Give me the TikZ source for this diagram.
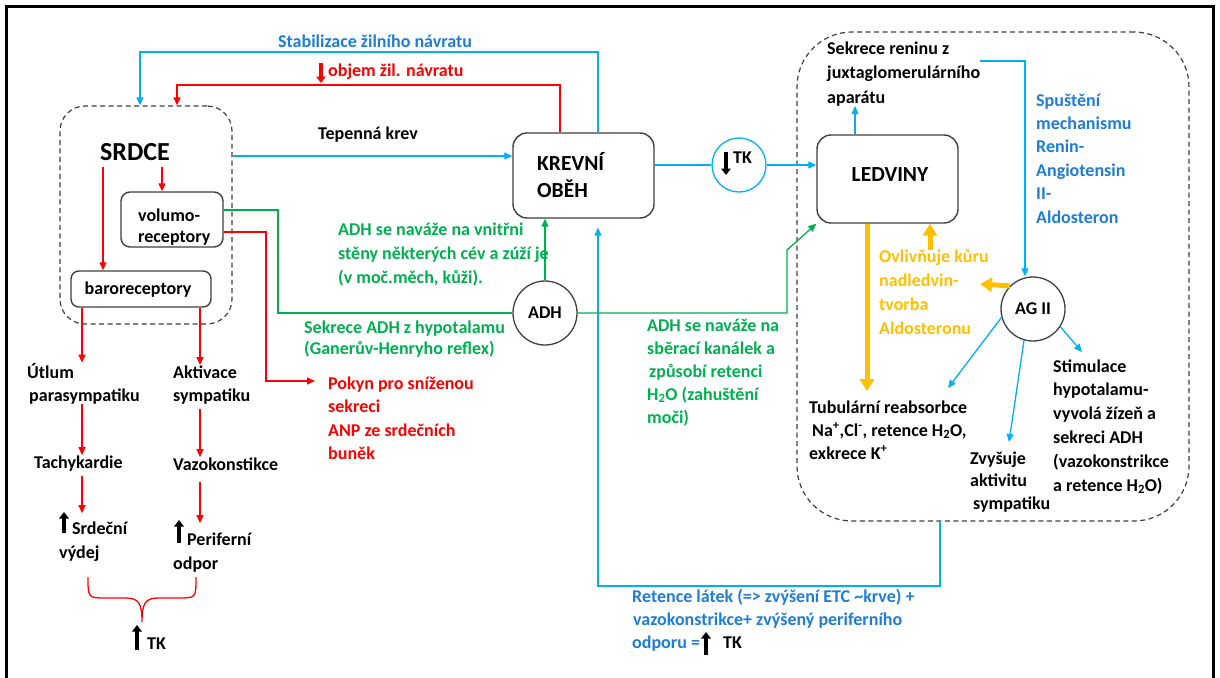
\documentclass[tikz,border=0pt]{standalone}
\usepackage{fontspec}
\setmainfont{Carlito}
\usetikzlibrary{arrows.meta}

\definecolor{lineblue}{RGB}{0,176,240}
\definecolor{textblue}{RGB}{31,125,214}
\definecolor{adhgreen}{RGB}{0,176,80}
\definecolor{alarmred}{RGB}{255,0,0}
\definecolor{amber}{RGB}{255,192,0}
\definecolor{outline}{RGB}{64,64,64}

% multi-line labels are placed by the baseline of their last line
\tikzset{
  lbl/.style={font=\bfseries\fontsize{18}{23}\selectfont, inner sep=0pt, align=left, anchor=base west},
  organ/.style={draw=outline, line width=1.4pt, fill=white, inner sep=0pt},
  group/.style={draw=outline, line width=1.2pt, dash pattern=on 5pt off 3.5pt, inner sep=0pt},
  hub/.style={circle, draw=outline, line width=1.3pt, fill=white, minimum size=64pt, inner sep=0pt,
              font=\bfseries\fontsize{18}{22}\selectfont},
  tip/.style={-{Triangle[length=8pt,width=7pt]}},
  bl/.style={draw=lineblue, line width=1.3pt},
  gl/.style={draw=adhgreen, line width=1.3pt},
  rl/.style={draw=alarmred, line width=1.3pt},
  ol/.style={draw=amber, line width=5pt, -{Triangle[length=12pt,width=14pt]}},
  bigup/.style={line width=3.8pt, -{Triangle[length=6.5pt,width=9.5pt]}},
}

\begin{document}
\begin{tikzpicture}[x=1pt,y=-1pt]
\useasboundingbox (0,0) rectangle (1220,677);
\fill[white] (0,0) rectangle (1220,677);
\draw[line width=3pt] (6,7) rectangle (1213,700);

% ---- dashed groups ----
\node[group, rounded corners=25pt, minimum width=172pt, minimum height=218pt] (heart) at (146,215) {};
\node[group, rounded corners=55pt, minimum width=392pt, minimum height=489pt] (renal) at (993,276.5) {};

% ---- boxes ----
\node[organ, rounded corners=9pt, minimum width=102pt, minimum height=55pt] (volumo) at (172,219.5) {};
\node[lbl, font=\bfseries\fontsize{18}{21}\selectfont] (volumotxt) at (138,242) {volumo-\\receptory};
\node[organ, rounded corners=8pt, minimum width=140pt, minimum height=36pt] (baro) at (141,289) {};
\node[lbl, anchor=base] (barotxt) at (138,294) {baroreceptory};

\node[organ, rounded corners=14pt, minimum width=141pt, minimum height=85pt] (krevni) at (583.5,175.5) {};
\node[lbl, font=\bfseries\fontsize{21.5}{27}\selectfont] (krevnitxt) at (537,197) {KREVNÍ\\OBĚH};

\node[organ, rounded corners=14pt, minimum width=141pt, minimum height=88pt] (ledviny) at (887.5,179) {};
\node[font=\bfseries\fontsize{21.5}{26}\selectfont, inner sep=0pt] (ledvinytxt) at (890,175) {LEDVINY};

\node[font=\bfseries\fontsize{26}{30}\selectfont, inner sep=1pt] (srdce) at (135,152) {SRDCE};

% ---- circles ----
\node[hub] (adh) at (545,313) {ADH};
\node[hub] (ag) at (1033,309) {AG II};
\node[hub, draw=lineblue, minimum size=54pt] (tk) at (739,165) {};
\node[lbl] (tklbl) at (733,163) {TK};
\draw[bigup] ([xshift=-7pt,yshift=11pt]tklbl.base west) -- ++(0,23);

% ---- labels ----
\node[lbl, anchor=base, text=textblue] (stab) at (375,48) {Stabilizace žilního návratu};
\node[lbl, text=alarmred] (objem) at (328,77) {objem žil. návratu};
\draw[bigup, draw=alarmred] ([xshift=-7pt,yshift=14pt]objem.base west) -- ++(0,20);
\node[lbl] (tepenna) at (318,139) {Tepenná krev};

\node[lbl, text=adhgreen, font=\bfseries\fontsize{18}{24}\selectfont] (adhvessel) at (338,283)
  {ADH se naváže na vnitřni\\stěny některých cév a zúží je\\(v moč.měch, kůži).};
\node[lbl, text=adhgreen, font=\bfseries\fontsize{18}{21.5}\selectfont] (sekrece) at (304,354.5)
  {Sekrece ADH z hypotalamu\\(Ganerův-Henryho reflex)};
\node[lbl, text=alarmred, font=\bfseries\fontsize{18}{23.6}\selectfont] (pokyn) at (328,459.8)
  {Pokyn pro sníženou\\sekreci\\ANP ze srdečních\\buněk};

\node[lbl] (utlum) at (27,401) {Útlum\\\hspace{2pt}parasympatiku};
\node[lbl] (aktiv) at (173,401) {Aktivace\\sympatiku};
\node[lbl] (tachy) at (34,468) {Tachykardie};
\node[lbl] (vazo) at (173,470) {Vazokonstikce};
\node[lbl, font=\bfseries\fontsize{18}{24}\selectfont] (srdecni) at (59,558) {\hspace{13pt}Srdeční\\výdej};
\draw[bigup] ([xshift=5pt,yshift=25pt]srdecni.base west) -- ++(0,-21);
\node[lbl, font=\bfseries\fontsize{18}{24}\selectfont] (perif) at (173,569) {\hspace{14pt}Periferní\\odpor};
\draw[bigup] ([xshift=6pt,yshift=26pt]perif.base west) -- ++(0,-23);
\node[lbl] (tkup) at (147,649) {TK};
\draw[bigup] ([xshift=-10pt,yshift=-1pt]tkup.base west) -- ++(0,-25);

\node[lbl, font=\bfseries\fontsize{18}{24.5}\selectfont] (renin) at (827,103)
  {Sekrece reninu z\\juxtaglomerulárního\\aparátu};
\node[lbl, text=textblue, font=\bfseries\fontsize{18}{23.4}\selectfont] (spust) at (1036,223)
  {Spuštění\\mechanismu\\Renin-\\Angiotensin\\II-\\Aldosteron};
\node[lbl, text=amber, font=\bfseries\fontsize{18}{23.7}\selectfont] (ovl) at (879,334)
  {Ovlivňuje kůru\\nadledvin-\\tvorba\\Aldosteronu};
\node[lbl] (tub) at (809,459)
  {Tubulární reabsorbce\\\hspace{3pt}Na\textsuperscript{+},Cl\textsuperscript{-}, retence H\textsubscript{2}O,\\exkrece K\textsuperscript{+}};
\node[lbl, font=\bfseries\fontsize{18}{22.5}\selectfont] (zvys) at (970,509)
  {Zvyšuje\\aktivitu\\\hspace{3pt}sympatiku};
\node[lbl, font=\bfseries\fontsize{18}{23.8}\selectfont] (stim) at (1053,491)
  {Stimulace\\hypotalamu-\\vyvolá žízeň a\\sekreci ADH\\(vazokonstrikce\\a retence H\textsubscript{2}O)};
\node[lbl, text=adhgreen, font=\bfseries\fontsize{18}{22.8}\selectfont] (adhduct) at (647,423)
  {ADH se naváže na\\sběrací kanálek a\\\hspace{2pt}způsobí retenci\\H\textsubscript{2}O (zahuštění\\moči)};
\node[lbl, text=textblue] (ret) at (632,648)
  {Retence látek (=> zvýšení ETC \textasciitilde krve) +\\\hspace{1pt}vazokonstrikce+ zvýšený periferního\\odporu =};
\node[lbl] (rettk) at (723,648) {TK};
\draw[bigup] ([xshift=-17pt,yshift=-7pt]rettk.base west) -- ++(0,-23);

% ---- bend points ----
\coordinate (stabR) at (598,52);   \coordinate (stabL) at (140,52);
\coordinate (objR) at (560,85);    \coordinate (objL) at (177,85);
\coordinate (art) at (380,156);
\coordinate (volG) at (278,210);
\coordinate (volR1) at (266,232);  \coordinate (volR2) at (266,381);
\coordinate (adhK1) at (787,313);  \coordinate (adhK2) at (787,250);
\coordinate (retB1) at (940,586);  \coordinate (retB2) at (598,586);
\coordinate (ren1) at (1025,61);
\coordinate (hL) at (103,200);     \coordinate (hR) at (162,180);
\coordinate (colL) at (82,420);    \coordinate (colR) at (200,420);
\coordinate (rx) at (855,120);
\coordinate (ox1) at (867,300);    \coordinate (ox2) at (930,235);
\coordinate (tubEnd) at (948,388);
\coordinate (zvysEnd) at (1009,442);
\coordinate (stimEnd) at (1082,352);
\coordinate (ovlEnd) at (980,284);

% ---- blue connectors ----
\draw[bl, tip] (krevni.north -| stabR) -- (stabR) -- (stabL) -- (heart.north -| stabL);
\draw[bl, tip] (heart.east |- art) -- (krevni.west |- art);
\draw[bl] (krevni.east |- tk.west) -- (tk.west);
\draw[bl, tip] (tk.east) -- (ledviny.west |- tk.east);
\draw[bl, tip] (ledviny.north -| rx) -- (renin.south -| rx);
\draw[bl, tip] (renin.east |- ren1) -- (ren1) -- (ag.north -| ren1);
\draw[bl, tip] (ag.195) -- (tubEnd);
\draw[bl, tip] (ag.254) -- (zvysEnd);
\draw[bl, tip] (ag.327) -- (stimEnd);
\draw[bl, tip, shorten >=9pt] (renal.south -| retB1) -- (retB1) -- (retB2) -- (krevni.south -| retB2);

% ---- red connectors ----
\draw[rl, tip] (krevni.north -| objR) -- (objR) -- (objL) -- (heart.north -| objL);
\draw[rl, tip, shorten <=5pt] (srdce.south -| hL) -- (baro.north -| hL);
\draw[rl, tip, shorten <=5pt] (srdce.south -| hR) -- (volumo.north -| hR);
\draw[rl, tip, shorten >=13pt] (volumo.east |- volR1) -- (volR1) -- (volR2) -- (pokyn.west |- volR2);
\draw[rl, tip] (baro.south -| colL) -- (utlum.north -| colL);
\draw[rl, tip] (baro.south -| colR) -- (aktiv.north -| colR);
\draw[rl, tip] (utlum.south -| colL) -- (tachy.north -| colL);
\draw[rl, tip, shorten <=5pt, shorten >=8pt] (tachy.south -| colL) -- (srdecni.north -| colL);
\draw[rl, tip, shorten <=5pt] (aktiv.south -| colR) -- (vazo.north -| colR);
\draw[rl, tip, shorten <=12pt, shorten >=9pt] (vazo.south -| colR) -- (perif.north -| colR);
\draw[rl] (88,577) .. controls (88,598) .. (106,598) -- (126,598)
          .. controls (139,598) and (142,604) .. (142,622)
          .. controls (142,604) and (145,598) .. (158,598) -- (178,598)
          .. controls (196,598) .. (196,577);

% ---- green connectors ----
\draw[gl] (volumo.east |- volG) -- (volG) -- (volG |- adh.west) -- (adh.west);
\draw[gl, tip] (adh.east) -- (adhK1) -- (adhK2) -- (ledviny.south west);
\draw[gl, tip] (adh.north) -- (krevni.south -| adh.north);

% ---- amber arrows ----
\draw[ol, shorten >=9pt] (ledviny.south -| ox1) -- (tub.north -| ox1);
\draw[ol] (ovl.north -| ox2) -- (ledviny.south -| ox2);
\draw[ol] (ag.135) -- (ovlEnd);
\end{tikzpicture}
\end{document}
